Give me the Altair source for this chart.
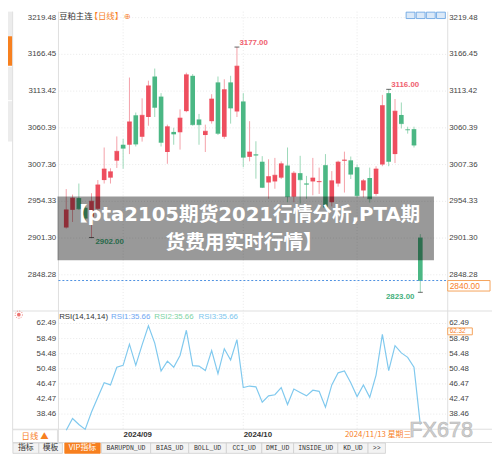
import datetime as dt
import altair as alt
import pandas as pd

# ---------------- data ----------------
dates = [
    "2024-08-16", "2024-08-19", "2024-08-20", "2024-08-21", "2024-08-22", "2024-08-23",
    "2024-08-26", "2024-08-27", "2024-08-28", "2024-08-29", "2024-08-30",
    "2024-09-02", "2024-09-03", "2024-09-04", "2024-09-05", "2024-09-06", "2024-09-09",
    "2024-09-10", "2024-09-11", "2024-09-12", "2024-09-13", "2024-09-18", "2024-09-19",
    "2024-09-20", "2024-09-23", "2024-09-24", "2024-09-25", "2024-09-26", "2024-09-27",
    "2024-09-30",
    "2024-10-08", "2024-10-09", "2024-10-10", "2024-10-11", "2024-10-14", "2024-10-15",
    "2024-10-16", "2024-10-17", "2024-10-18", "2024-10-21", "2024-10-22", "2024-10-23",
    "2024-10-24", "2024-10-25", "2024-10-28", "2024-10-29", "2024-10-30", "2024-10-31",
    "2024-11-01", "2024-11-04", "2024-11-05", "2024-11-06", "2024-11-07", "2024-11-08",
    "2024-11-11", "2024-11-12", "2024-11-13",
]
opens = [2916.5, 2942, 2959, 2945, 2932, 2943.5, 2985, 2988.5, 3013, 3036,
         3036, 3078.5, 3047.5, 3076, 3134.5, 3105.5, 3025.5, 3054.5, 3054, 3084.5,
         3135.5, 3072.5, 3050, 3070, 3126, 3047.5, 3126, 3084, 3098.5, 3018.5,
         3022, 3011.5, 2981.5, 2983, 2988.5, 3006, 2961, 2995, 2980, 2983,
         2982, 3006.5, 2953, 2980, 3013, 3013.5, 3003.5, 2970, 2988, 2965,
         3007.5, 3110.5, 3022.5, 3079, 3058, 3058.5, 2902]
highs = [2972, 2964, 2980, 2949, 2966, 2985, 3032, 3002, 3048, 3044.5,
         3133, 3082.5, 3103, 3128.5, 3146, 3110.5, 3065, 3060.5, 3087, 3140,
         3138, 3080.5, 3065, 3109, 3134.5, 3130.5, 3135.5, 3177, 3110.5, 3070,
         3041, 3019.5, 3015, 3017, 3012, 3032, 2998, 3020, 2991, 3017,
         3003, 3022.5, 2998, 3013, 3026, 3019, 3007.5, 2986.5, 3003, 3005,
         3108, 3116, 3102, 3097, 3062, 3062, 2907]
lows = [2915, 2924.5, 2942, 2927, 2902, 2938, 2980, 2980, 3002.5, 3001.5,
        3022.5, 3033.5, 3040.5, 3063.5, 3076, 3033.5, 3008.5, 3036, 3029, 3083,
        3063.5, 3036, 3025.5, 3066.5, 3050, 3044.5, 3066.5, 3076, 3003.5, 3012,
        2987, 2973.5, 2958, 2972.5, 2986.5, 2953, 2953, 2951, 2958, 2963,
        2965, 2944, 2947, 2975.5, 2967, 2986.5, 2960, 2960, 2952.5, 2962.5,
        3005, 3005, 3009.5, 3059.5, 3052, 3032, 2823]
closes = [2942, 2959, 2943.5, 2930, 2954.5, 2978, 3001, 2997, 3026.5, 3031,
          3069, 3037, 3078.5, 3121, 3090, 3039.5, 3062, 3051.5, 3074.5, 3137,
          3065, 3065, 3055.5, 3102, 3052.5, 3115.5, 3089, 3149.5, 3018, 3025.5,
          3021, 2974.5, 2990, 2992, 3008.5, 2961, 2995, 2985.5, 2979, 2988,
          2983, 2946, 2984, 3011, 3014, 2993.5, 2962.5, 2984, 2958, 3001,
          3092.5, 3012, 3084.5, 3066.5, 3057.5, 3035.5, 2840]
rsi = [34.2, 37.3, 35.7, 34.4, 39.0, 42.9, 46.8, 46.2, 50.9, 51.4,
       57.0, 51.4, 56.8, 61.9, 57.3, 49.9, 52.5, 50.9, 54.0, 60.7,
       51.3, 51.2, 50.0, 55.3, 49.2, 55.8, 52.8, 58.2, 45.5, 45.9,
       45.7, 41.6, 43.3, 43.6, 45.5, 41.0, 45.1, 44.2, 43.3, 44.8,
       44.5, 40.3, 46.2, 49.4, 49.9, 46.8, 43.1, 46.2, 42.9, 48.8,
       59.6, 50.0, 56.6, 54.7, 53.5, 50.9, 35.66]

price_ticks = [3219.48, 3166.45, 3113.42, 3060.39, 3007.36, 2954.33, 2901.30, 2848.28]
rsi_ticks = [62.49, 58.49, 54.48, 50.48, 46.47, 42.47, 38.46]
month_labels = ["2024/09", "2024/10"]
marked_high = [27, 51]      # candles whose high is annotated
marked_low_right = [4]      # low annotated, label to the right
marked_low_left = [56]      # low annotated, label to the left
vgrid_idx = [9, 28, 46]

title_name = "豆粕主连"
title_period = "【日线】"
banner_lines = ["【pta2105期货2021行情分析,PTA期", "货费用实时行情】"]
cursor_value = "62.32"
tab_names = ["指标", "模板", "VIP指标", "BARUPDN_UD", "BIAS_UD", "BOLL_UD",
             "CCI_UD", "DMI_UD", "INSIDE_UD", "KD_UD", ">>"]
weekdays = ["星期一", "星期二", "星期三", "星期四", "星期五", "星期六", "星期日"]

# ---------------- tables ----------------
df = pd.DataFrame({"i": range(len(dates)), "date": dates, "open": opens, "high": highs,
                   "low": lows, "close": closes, "rsi": rsi})
ticks_df = pd.DataFrame({"v": price_ticks, "label": [f"{v:.2f}" for v in price_ticks]})
rticks_df = pd.DataFrame({"v": rsi_ticks, "label": [f"{v:.2f}" for v in rsi_ticks]})
month_idx = [next(k for k, d in enumerate(dates) if d.startswith(m.replace("/", "-")))
             for m in month_labels]
months_df = pd.DataFrame({"i": month_idx, "label": month_labels})
vgrid_df = pd.DataFrame({"i": vgrid_idx})
last = df.tail(1).copy()
ld = dt.date.fromisoformat(dates[-1])
last["cursor"] = ld.strftime("%Y/%m/%d") + " " + weekdays[ld.weekday()]
last["price_label"] = [f"{closes[-1]:.2f}"]
one = pd.DataFrame({"k": [0]})

# ---------------- layout / style ----------------
W, H = 492, 449
XS = alt.Scale(domain=[-8.43, 66.56], nice=False, zero=False)
PS = alt.Scale(domain=[2590.51, 3228.12], nice=False, zero=False)
RS = alt.Scale(domain=[28.05, 145.19], nice=False, zero=False)
RED, GREEN = "#ee4e5e", "#4bb784"
WRED, WGREEN = "#f4a0a8", "#9bd8b8"
ORANGE = "#f7801f"
NUMF = "Liberation Sans"
CJK = "Noto Sans CJK SC"
BANNERF = "DejaVu Sans, Noto Sans CJK SC"
GRID = "#e9e9e9"
BORDER = "#dedede"

X = alt.X("i:Q", scale=XS, axis=None)
up = "datum.close >= datum.open"


def box(x0, y0, x1, y1, fill="white", stroke=None, sw=1, opacity=1):
    kw = dict(fill=fill, opacity=opacity)
    if stroke:
        kw.update(stroke=stroke, strokeWidth=sw)
    return alt.Chart(one).mark_rect(**kw).encode(
        x=alt.value(x0), x2=alt.value(x1), y=alt.value(y0), y2=alt.value(y1))


def line(x0, y0, x1, y1, color=BORDER, sw=1, dash=None):
    kw = dict(color=color, strokeWidth=sw)
    if dash:
        kw["strokeDash"] = dash
    return alt.Chart(one).mark_rule(**kw).encode(
        x=alt.value(x0), x2=alt.value(x1), y=alt.value(y0), y2=alt.value(y1))


def label(x, y, text, size=8, color="#333", align="left", weight="normal", font=NUMF, **kw):
    return alt.Chart(one).mark_text(align=align, baseline="middle", fontSize=size, color=color,
                                    fontWeight=weight, font=font, **kw).encode(
        x=alt.value(x), y=alt.value(y), text=alt.value(text))


layers = []

# sidebar (mostly outside the page area)
layers += [box(0, 0, 4.7, 25, fill="#ececec"), box(0, 25, 4.7, 55, fill=ORANGE),
           box(0, 56, 4.7, 90, fill="#ececec"), box(0, 91, 4.7, 132, fill="#ececec"),
           line(4.7, 0, 4.7, 425, color=BORDER)]

# grid lines
layers.append(alt.Chart(ticks_df).mark_rule(color=GRID, strokeDash=[1, 2]).encode(
    y=alt.Y("v:Q", scale=PS, axis=None), x=alt.value(51.3), x2=alt.value(447)))
layers.append(alt.Chart(rticks_df).mark_rule(color=GRID, strokeDash=[1, 2]).encode(
    y=alt.Y("v:Q", scale=RS, axis=None), x=alt.value(51.3), x2=alt.value(447)))
layers.append(alt.Chart(vgrid_df).mark_rule(color=GRID, strokeDash=[1, 2]).encode(
    x=X, y=alt.value(0), y2=alt.value(424.5)))

# panel borders
layers += [line(51.3, 0, 51.3, 438), line(447, 0, 447, 424.5),
           line(4.7, 304.3, 492, 304.3), line(4.7, 424.5, 492, 424.5),
           line(4.7, 438, 492, 438)]

# candles
layers.append(alt.Chart(df).mark_rule(strokeWidth=1).encode(
    X, y=alt.Y("low:Q", scale=PS, axis=None), y2="high:Q",
    color=alt.condition(up, alt.value(WRED), alt.value(WGREEN))))
layers.append(alt.Chart(df).mark_bar(size=4.7).encode(
    X, y=alt.Y("open:Q", scale=PS, axis=None), y2="close:Q",
    color=alt.condition(up, alt.value(RED), alt.value(GREEN))))
layers.append(alt.Chart(df).mark_tick(orient="horizontal", size=4.7, thickness=1).encode(
    X, y=alt.Y("close:Q", scale=PS, axis=None),
    color=alt.condition(up, alt.value(RED), alt.value(GREEN))))

# last price dashed line and box
layers.append(alt.Chart(last).mark_rule(color="#4a8fe0", strokeDash=[2, 2]).encode(
    y=alt.Y("close:Q", scale=PS, axis=None), x=alt.value(51.3), x2=alt.value(447)))
layers.append(alt.Chart(last).mark_rect(fill="white", stroke="#f5a25a", strokeWidth=1).encode(
    y=alt.Y("close:Q", scale=PS, axis=None), y2=alt.value(284),
    x=alt.value(447), x2=alt.value(490)))
layers.append(alt.Chart(last).mark_text(align="left", baseline="middle", fontSize=8.5,
                                        font=NUMF, color=ORANGE, dy=5.5).encode(
    y=alt.Y("close:Q", scale=PS, axis=None), x=alt.value(449), text="price_label:N"))

# extreme annotations
hi_df = df.iloc[marked_high]
lo_r = df.iloc[marked_low_right]
lo_l = df.iloc[marked_low_left]
for d, fld in [(hi_df, "high"), (lo_r, "low"), (lo_l, "low")]:
    layers.append(alt.Chart(d).mark_tick(orient="horizontal", size=5, thickness=1,
                                         color="#222").encode(
        X, y=alt.Y(f"{fld}:Q", scale=PS, axis=None)))
layers.append(alt.Chart(hi_df).mark_text(align="left", baseline="middle", dx=2.5, dy=-4.5,
                                         fontSize=8, fontWeight="bold", font=NUMF,
                                         color="#f0606e").encode(
    X, y=alt.Y("high:Q", scale=PS, axis=None), text=alt.Text("high:Q", format=".2f")))
layers.append(alt.Chart(lo_r).mark_text(align="left", baseline="middle", dx=4, dy=4.5,
                                        fontSize=8, fontWeight="bold", font=NUMF,
                                        color="#45b07c").encode(
    X, y=alt.Y("low:Q", scale=PS, axis=None), text=alt.Text("low:Q", format=".2f")))
layers.append(alt.Chart(lo_l).mark_text(align="right", baseline="middle", dx=-6, dy=4.5,
                                        fontSize=8, fontWeight="bold", font=NUMF,
                                        color="#45b07c").encode(
    X, y=alt.Y("low:Q", scale=PS, axis=None), text=alt.Text("low:Q", format=".2f")))

# RSI line
layers.append(alt.Chart(df).mark_line(color="#80c9ee", strokeWidth=1.2).encode(
    X, y=alt.Y("rsi:Q", scale=RS, axis=None)))

# axis labels
for d, sc in [(ticks_df, PS), (rticks_df, RS)]:
    layers.append(alt.Chart(d).mark_text(align="right", baseline="middle", fontSize=8,
                                         font=NUMF, color="#444").encode(
        y=alt.Y("v:Q", scale=sc, axis=None), x=alt.value(49), text="label:N"))
    layers.append(alt.Chart(d).mark_text(align="left", baseline="middle", fontSize=8,
                                         font=NUMF, color="#444").encode(
        y=alt.Y("v:Q", scale=sc, axis=None), x=alt.value(448.5), text="label:N"))

# cursor value box in RSI panel
layers += [box(447, 321.5, 472, 328.5, fill="white", stroke="#f5a25a"),
           label(449, 325, cursor_value, size=6.5, color=ORANGE)]

# month labels and cursor date
layers.append(alt.Chart(months_df).mark_text(baseline="middle", fontSize=8, fontWeight="bold",
                                             font=NUMF, color="#333", dx=2).encode(
    X, y=alt.value(430.5), text="label:N"))
layers.append(alt.Chart(last).mark_text(align="right", baseline="middle", fontSize=8,
                                        font=CJK, color=ORANGE).encode(
    x=alt.value(410), y=alt.value(430.5), text="cursor:N"))

# overlay banner
layers += [box(50.3, 188, 433, 252.7, fill="black", opacity=0.4),
           label(240, 207, banner_lines[0], size=20, color="white", align="center",
                 weight="bold", font=BANNERF),
           label(240, 235, banner_lines[1], size=20, color="white", align="center",
                 weight="bold", font=BANNERF)]

# title
layers += [label(52, 4.5, title_name, size=8.5, color="#333", font=CJK),
           label(83, 4.5, title_period, size=8.5, color=ORANGE, font=CJK),
           label(118, 5, "⊕", size=8, color=ORANGE, font="DejaVu Sans")]
# top-right tool icons
for k in range(4):
    x0 = 404.7 + k * 10.3
    layers.append(box(x0, 0.5, x0 + 9, 7, fill="#dbe9f8", stroke="#5d9de0", sw=0.8))

# RSI header
rsi_txt = f"{rsi[-1]:.2f}"
layers += [alt.Chart(one).mark_point(shape="circle", filled=True, color="#e53935", size=14).encode(
               x=alt.value(11), y=alt.value(308)),
           alt.Chart(one).mark_point(shape="circle", color="#e53935", size=55, strokeWidth=1,
                                     strokeDash=[1, 1.5]).encode(x=alt.value(11), y=alt.value(308)),
           label(52, 310.5, "RSI(14,14,14)", color="#333"),
           label(104.7, 310.5, f"RSI1:{rsi_txt}", color="#6ea6f2"),
           label(148.7, 310.5, f"RSI2:{rsi_txt}", color="#7dd3a3"),
           label(193.7, 310.5, f"RSI3:{rsi_txt}", color="#7cc6ee")]

# bottom-left period box
layers += [box(4.7, 425, 50.3, 438, fill="white", stroke=BORDER),
           label(27.5, 431.5, "日线 ▲", size=8.5, color=ORANGE, align="center", font=CJK)]

# bottom tab bar
spans = [(5, 31.3), (31.3, 55.3), (57.7, 93.7), (95, 145), (145, 183.7), (183.7, 222),
         (222, 258), (258, 290.3), (290.3, 335.3), (335.3, 366), (366, 383.7)]
for name, (a, b) in zip(tab_names, spans):
    vip = name == "VIP指标"
    layers.append(box(a, 438.5, b, 449, fill=ORANGE if vip else "#f3f3f3",
                      stroke=ORANGE if vip else "#cfcfcf", sw=0.8))
    cjk = any(ord(ch) > 127 for ch in name)
    layers.append(label((a + b) / 2, 444, name, size=8 if cjk else 6.6,
                        color="white" if vip else "#333", align="center",
                        font=CJK if cjk else "Liberation Mono"))

# watermark
layers.append(label(408, 425.5, "FX678", size=22, color="#d2d2d2", font=NUMF,
                    stroke="#b5b5b5", strokeWidth=0.6))

chart = alt.layer(*layers).resolve_scale(y="independent").properties(
    width=W, height=H, autosize=alt.AutoSizeParams(type="none"), padding=0,
    background="white"
).configure_view(stroke=None)

chart.save("out.html", embed_options={"renderer": "svg", "actions": False})
